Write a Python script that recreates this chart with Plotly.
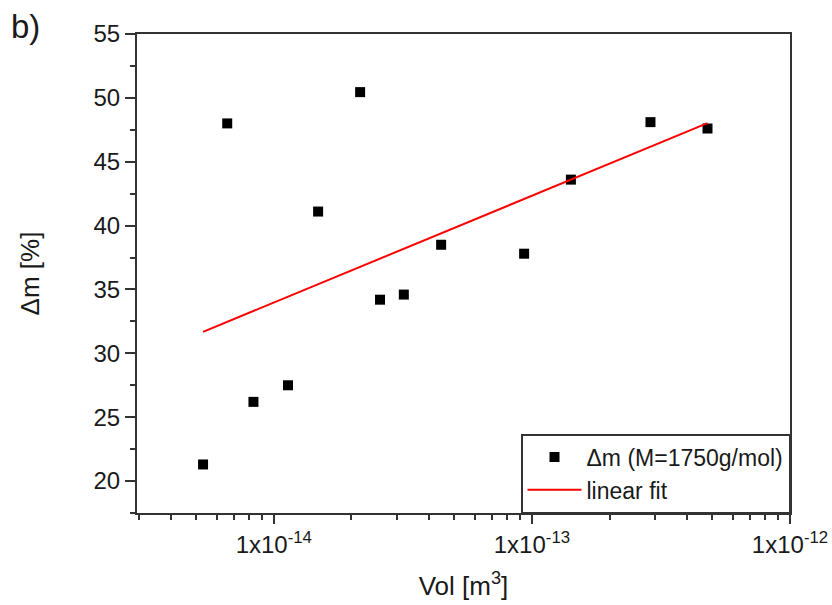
import numpy as np
import plotly.graph_objects as go

# Measured particle volumes [m^3] and mass change [%]
vol = [5.32e-15, 6.6e-15, 8.34e-15, 1.135e-14, 1.485e-14, 2.16e-14, 2.58e-14,
       3.19e-14, 4.45e-14, 9.33e-14, 1.416e-13, 2.88e-13, 4.79e-13]
dm = [21.3, 48.0, 26.2, 27.5, 41.1, 50.45, 34.2, 34.6, 38.5, 37.8, 43.6, 48.1, 47.6]

major_x = [1e-14, 1e-13, 1e-12]
major_x_text = ["1x10<sup>-14</sup>", "1x10<sup>-13</sup>", "1x10<sup>-12</sup>"]
minor_x = [m * 10.0 ** e for e in (-15, -14, -13) for m in range(2, 10)]

# Linear fit of dm against log10(vol)
slope, intercept = np.polyfit(np.log10(vol), dm, 1)
fit_x = [min(vol), max(vol)]
fit_y = [intercept + slope * np.log10(v) for v in fit_x]

FONT = "Liberation Sans, Arial, sans-serif"
INK = "#1a1a1a"
AXIS = "#333333"

fig = go.Figure()
fig.add_trace(go.Scatter(
    x=vol, y=dm, mode="markers", name="Δm (M=1750g/mol)",
    marker=dict(symbol="square", size=10, color="black"),
))
fig.add_trace(go.Scatter(
    x=fit_x, y=fit_y, mode="lines", name="linear fit",
    line=dict(color="#ff0000", width=2),
))

fig.update_xaxes(
    type="log", range=[-14.53, -12], automargin=False,
    tickmode="array", tickvals=major_x, ticktext=major_x_text,
    ticks="outside", ticklen=9, tickwidth=1.5, tickcolor=AXIS,
    minor=dict(tickmode="array", tickvals=minor_x, ticks="outside",
               ticklen=5, tickwidth=1.5, tickcolor=AXIS, showgrid=False),
    showline=True, linecolor=AXIS, linewidth=2, mirror=True,
    showgrid=False, zeroline=False,
    tickfont=dict(family=FONT, size=24, color=INK),
    title=dict(text="Vol [m<sup>3</sup>]", font=dict(family=FONT, size=26, color=INK),
               standoff=20),
)
fig.update_yaxes(
    range=[17.5, 55], tick0=0, dtick=5, automargin=False,
    ticks="outside", ticklen=10, tickwidth=1.5, tickcolor=AXIS,
    minor=dict(dtick=2.5, ticks="outside", ticklen=5, tickwidth=1.5,
               tickcolor=AXIS, showgrid=False),
    showline=True, linecolor=AXIS, linewidth=2, mirror=True,
    showgrid=False, zeroline=False,
    tickfont=dict(family=FONT, size=24, color=INK),
    title=dict(text="Δm [%]", font=dict(family=FONT, size=26, color=INK),
               standoff=46),
)

fig.update_layout(
    width=832, height=605,
    margin=dict(l=137, r=42, t=34, b=92),
    paper_bgcolor="white", plot_bgcolor="white",
    font=dict(family=FONT, color=INK),
    legend=dict(
        x=1, y=0, xanchor="right", yanchor="bottom",
        bgcolor="white", bordercolor=AXIS, borderwidth=1.5,
        font=dict(family=FONT, size=23, color=INK),
        tracegroupgap=0, itemwidth=54,
    ),
    annotations=[dict(
        text="b)", xref="paper", yref="paper", x=-0.196, y=1.016,
        xanchor="left", yanchor="middle", showarrow=False,
        font=dict(family=FONT, size=33, color=INK),
    )],
)

fig.write_html("out.html")
